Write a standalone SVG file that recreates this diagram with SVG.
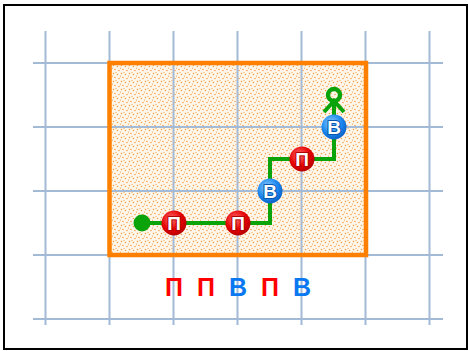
<svg xmlns="http://www.w3.org/2000/svg" width="468" height="351" viewBox="0 0 468 351">
<defs>
<pattern id="dots" width="8" height="8" patternUnits="userSpaceOnUse">
<rect width="8" height="8" fill="#fff6ea"/>
<circle cx="1.5" cy="1.5" r="0.75" fill="#f49a45"/>
<circle cx="5.5" cy="2.5" r="0.75" fill="#f49a45"/>
<circle cx="3" cy="5.5" r="0.75" fill="#f49a45"/>
<circle cx="7" cy="6.5" r="0.75" fill="#f49a45"/>
<circle cx="4" cy="0.2" r="0.65" fill="#f49a45"/>
<circle cx="0.3" cy="4.2" r="0.65" fill="#f49a45"/>
</pattern>
<radialGradient id="red" cx="0.4" cy="0.35" r="0.7">
<stop offset="0" stop-color="#ff6a6a"/>
<stop offset="0.6" stop-color="#e50000"/>
<stop offset="1" stop-color="#b00000"/>
</radialGradient>
<radialGradient id="blue" cx="0.4" cy="0.35" r="0.7">
<stop offset="0" stop-color="#8fd0ff"/>
<stop offset="0.6" stop-color="#1a86f0"/>
<stop offset="1" stop-color="#0a5cc0"/>
</radialGradient>
</defs>
<style>
.grid line{stroke:#a3bad6;stroke-width:2}
.lbl{font-family:"Liberation Sans",Arial,sans-serif;font-weight:bold;font-size:25px;text-anchor:middle}
.nt{font-family:"Liberation Sans",Arial,sans-serif;font-weight:bold;font-size:19px;text-anchor:middle;fill:#fff;stroke-width:2.2;paint-order:stroke;stroke-linejoin:round}
.r{fill:#ff0000}
.b{fill:#0a78f0}
</style>
<rect x="4" y="5" width="463" height="344" fill="#fff" stroke="#000" stroke-width="2"/>
<rect x="109.5" y="63" width="256.5" height="192" fill="url(#dots)"/>
<g class="grid">
<line x1="45.5" y1="31" x2="45.5" y2="325"/>
<line x1="109.5" y1="31" x2="109.5" y2="325"/>
<line x1="173.5" y1="31" x2="173.5" y2="325"/>
<line x1="237.5" y1="31" x2="237.5" y2="325"/>
<line x1="301.5" y1="31" x2="301.5" y2="325"/>
<line x1="365.5" y1="31" x2="365.5" y2="325"/>
<line x1="429.5" y1="31" x2="429.5" y2="325"/>
<line x1="33" y1="63" x2="443" y2="63"/>
<line x1="33" y1="127" x2="443" y2="127"/>
<line x1="33" y1="191" x2="443" y2="191"/>
<line x1="33" y1="255" x2="443" y2="255"/>
<line x1="33" y1="319" x2="443" y2="319"/>
</g>
<rect x="109.5" y="63" width="256.5" height="192" fill="none" stroke="#ff8000" stroke-width="4.5"/>
<g id="connectors" fill="none" stroke="#0aa30a" stroke-width="4">
<polyline points="142,223 270,223 270,159 334,159 334,104"/>
<polyline points="324,112 334,101 344,112" stroke-width="4" stroke-linejoin="miter"/>
<circle cx="334" cy="95" r="6" stroke-width="4.5"/>
</g>
<g id="start"><circle cx="142" cy="223" r="8.5" fill="#0aa30a"/></g>
<g id="n1"><circle cx="174" cy="223" r="12.5" fill="url(#red)"/><text class="nt" x="174" y="230" stroke="#b00000">П</text></g>
<g id="n2"><circle cx="238" cy="223" r="12.5" fill="url(#red)"/><text class="nt" x="238" y="230" stroke="#b00000">П</text></g>
<g id="n3"><circle cx="270" cy="191" r="12.5" fill="url(#blue)"/><text class="nt" x="270" y="198" stroke="#0858b0">В</text></g>
<g id="n4"><circle cx="302" cy="159" r="12.5" fill="url(#red)"/><text class="nt" x="302" y="166" stroke="#b00000">П</text></g>
<g id="n5"><circle cx="334" cy="127" r="12.5" fill="url(#blue)"/><text class="nt" x="334" y="134" stroke="#0858b0">В</text></g>
<g id="labels">
<text class="lbl r" x="174" y="296">П</text>
<text class="lbl r" x="206" y="296">П</text>
<text class="lbl b" x="238" y="296">В</text>
<text class="lbl r" x="270" y="296">П</text>
<text class="lbl b" x="302" y="296">В</text>
</g>
</svg>
